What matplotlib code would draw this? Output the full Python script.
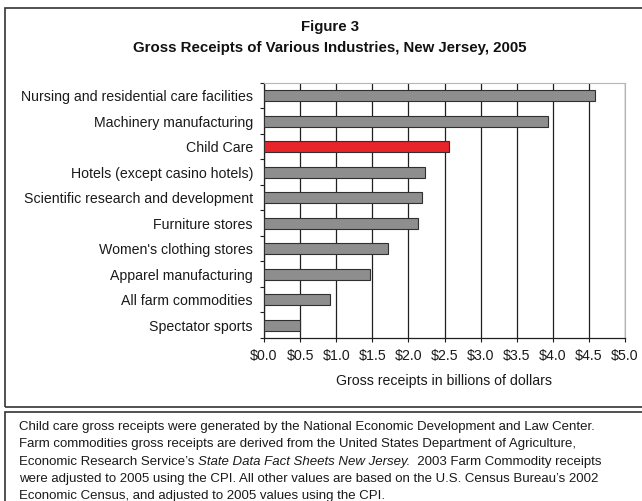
import matplotlib.pyplot as plt
from matplotlib.patches import Rectangle
from matplotlib.ticker import MultipleLocator, FuncFormatter

plt.rcParams['font.family'] = ['Liberation Sans', 'DejaVu Sans']

# data, top to bottom as in the figure
industries = [
    "Nursing and residential care facilities",
    "Machinery manufacturing",
    "Child Care",
    "Hotels (except casino hotels)",
    "Scientific research and development",
    "Furniture stores",
    "Women's clothing stores",
    "Apparel manufacturing",
    "All farm commodities",
    "Spectator sports",
]
receipts = [4.58, 3.94, 2.56, 2.23, 2.19, 2.13, 1.72, 1.47, 0.91, 0.50]
highlight = "Child Care"

W, H = 642, 501
fig = plt.figure(figsize=(W / 100, H / 100), dpi=100)

def fx(px):
    return px / W

def fy(py):
    return 1 - py / H

# plot area in pixels: left 264, right 625, top 83, bottom 338
ax = fig.add_axes([fx(264), fy(338), fx(625) - fx(264), fy(83) - fy(338)])

colors = ["#e8242a" if n == highlight else "#8e8e8e" for n in industries]
ypos = list(range(len(industries)))
ax.barh(ypos, receipts, height=0.45, color=colors, edgecolor="#303030",
        linewidth=0.8, zorder=3)

ax.set_xlim(0, 5)
ax.set_ylim(len(industries) - 0.5, -0.5)
ax.xaxis.set_major_locator(MultipleLocator(0.5))
ax.xaxis.set_major_formatter(FuncFormatter(lambda v, p: f"${v:.1f}"))
ax.grid(axis="x", color="#202020", linewidth=0.9, zorder=0)
ax.set_axisbelow(True)

ax.set_yticks(ypos)
ax.set_yticklabels(industries)
ax.set_yticks([i - 0.5 for i in range(len(industries) + 1)], minor=True)
ax.tick_params(axis="y", which="major", length=0, pad=8, labelsize=10.2,
               colors="#1a1a1a")
ax.tick_params(axis="y", which="minor", length=3, width=0.8, color="#202020")
ax.tick_params(axis="x", which="major", length=3, width=0.8, pad=5,
               labelsize=10.2, colors="#1a1a1a")

for side in ("top", "right"):
    ax.spines[side].set_color("#b5b5b5")
    ax.spines[side].set_linewidth(0.8)
for side in ("left", "bottom"):
    ax.spines[side].set_color("#202020")
    ax.spines[side].set_linewidth(0.9)

ax.set_xlabel("Gross receipts in billions of dollars", fontsize=10.2,
              color="#1a1a1a", labelpad=8)

fig.text(fx(330), fy(27), "Figure 3", ha="center", va="center",
         fontsize=10.8, fontweight="bold", color="#111111")
fig.text(fx(330), fy(48), "Gross Receipts of Various Industries, New Jersey, 2005",
         ha="center", va="center", fontsize=10.8, fontweight="bold",
         color="#111111")

# frames
fig.patches.append(Rectangle((fx(5), fy(407)), fx(650) - fx(5), fy(8) - fy(407),
                             transform=fig.transFigure, fill=False,
                             edgecolor="#333333", linewidth=1.2))
fig.patches.append(Rectangle((fx(5), fy(520)), fx(650) - fx(5), fy(412) - fy(520),
                             transform=fig.transFigure, fill=False,
                             edgecolor="#333333", linewidth=1.2))

# footnote, one list of (text, style) pieces per line
note_lines = [
    [("Child care gross receipts were generated by the National Economic Development and Law Center.", "normal")],
    [("Farm commodities gross receipts are derived from the United States Department of Agriculture,", "normal")],
    [("Economic Research Service\u2019s ", "normal"),
     ("State Data Fact Sheets New Jersey.", "italic"),
     ("  2003 Farm Commodity receipts", "normal")],
    [("were adjusted to 2005 using the CPI. All other values are based on the U.S. Census Bureau\u2019s 2002", "normal")],
    [("Economic Census, and adjusted to 2005 values using the CPI.", "normal")],
]
renderer = fig.canvas.get_renderer()
y0, dy = 427, 17.3
for i, pieces in enumerate(note_lines):
    x = 19
    for txt, style in pieces:
        t = fig.text(fx(x), fy(y0 + i * dy), txt, ha="left", va="center",
                     fontsize=9.5, style=style, color="#1a1a1a")
        x += t.get_window_extent(renderer).width

fig.savefig("out.png", dpi=100)
